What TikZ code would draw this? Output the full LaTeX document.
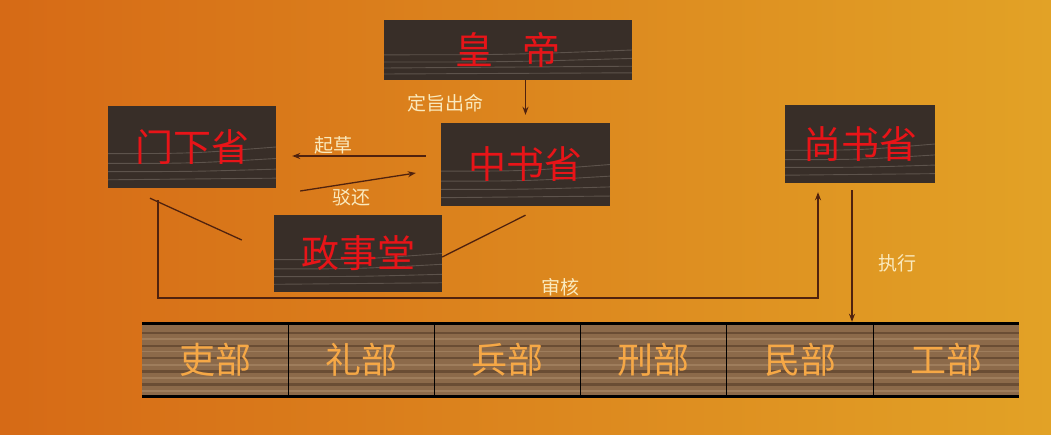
\documentclass[tikz,border=0pt]{standalone}
\usepackage{fontspec}
\newfontfamily\cjk{Noto Sans CJK SC}
\usetikzlibrary{arrows.meta,calc}
\definecolor{bgL}{RGB}{214,106,22}
\definecolor{bgM}{RGB}{230,144,28}
\definecolor{bgR}{RGB}{226,162,38}
\definecolor{wood}{RGB}{56,46,40}
\definecolor{woodln}{RGB}{150,140,130}
\definecolor{redtxt}{RGB}{232,20,24}
\definecolor{cell}{RGB}{140,106,74}
\definecolor{celldk}{RGB}{92,66,44}
\definecolor{celllt}{RGB}{170,138,104}
\definecolor{celltxt}{RGB}{246,168,70}
\definecolor{lbl}{RGB}{250,234,190}
\definecolor{arrc}{RGB}{80,34,14}
\tikzset{
  darkbox/.style={rectangle, fill=wood, inner sep=0pt, text=redtxt,
    font=\cjk\fontsize{38}{42}\selectfont,
    path picture={
      \foreach \f/\g in {0.58/0.50,0.70/0.64,0.80/0.77,0.90/0.88}
        \draw[woodln, opacity=0.4, line width=0.9pt]
          ($(path picture bounding box.north west)!\f!(path picture bounding box.south west)$)
          .. controls ($(path picture bounding box.north)!\f!(path picture bounding box.south)$) ..
          ($(path picture bounding box.north east)!\g!(path picture bounding box.south east)$);
    }},
  cellbox/.style={rectangle, fill=cell, inner sep=0pt, minimum width=146pt, minimum height=72pt,
    text=celltxt, font=\cjk\fontsize{36}{40}\selectfont,
    path picture={
      \foreach \f in {0.12,0.30,0.47,0.66,0.84}
        \draw[celldk, opacity=0.7, line width=2.2pt]
          ($(path picture bounding box.north west)!\f!(path picture bounding box.south west)$) --
          ($(path picture bounding box.north east)!\f!(path picture bounding box.south east)$);
      \foreach \f in {0.21,0.38,0.57,0.75,0.93}
        \draw[celllt, opacity=0.6, line width=1.5pt]
          ($(path picture bounding box.north west)!\f!(path picture bounding box.south west)$) --
          ($(path picture bounding box.north east)!\f!(path picture bounding box.south east)$);
    }},
  lab/.style={text=lbl, font=\cjk\fontsize{19}{22}\selectfont, inner sep=0pt},
  arr/.style={draw=arrc, line width=1.3pt, -{Stealth[length=8pt,width=6pt]}},
  ln/.style={draw=arrc, line width=1.3pt}
}
\begin{document}
\begin{tikzpicture}[x=1pt,y=-1pt]
\useasboundingbox (0,0) rectangle (1051,434);
\shade[left color=bgL, middle color=bgM, right color=bgR] (0,0) rectangle (1051,434);

% top boxes
\node[darkbox, minimum width=248pt, minimum height=60pt] (hd) at (508,50) {皇\hspace{30pt}帝};
\node[darkbox, minimum width=168pt, minimum height=82pt] (mx) at (192,147) {门下省};
\node[darkbox, minimum width=169pt, minimum height=83pt] (zs) at (525.5,164.5) {中书省};
\node[darkbox, minimum width=168pt, minimum height=77pt] (zst) at (358,253.5) {政事堂};
\node[darkbox, minimum width=150pt, minimum height=78pt] (ss) at (860,144) {尚书省};

% bottom row
\node[cellbox] (lb) at (215,360) {吏部};
\node[cellbox] (lib) at (361,360) {礼部};
\node[cellbox] (bb) at (507,360) {兵部};
\node[cellbox] (xb) at (653,360) {刑部};
\node[cellbox] (mb) at (800,360) {民部};
\node[cellbox] (gb) at (946,360) {工部};
\draw[black, line width=3pt] (lb.north west) -- (gb.north east);
\draw[black, line width=3pt] (lb.south west) -- (gb.south east);
\foreach \a/\b in {lb/lib,lib/bb,bb/xb,xb/mb,mb/gb}
  \draw[black, line width=1.2pt] (\a.north east) -- (\a.south east);

% connectors
\draw[arr] (hd.south -| zs.north) -- ($(zs.north)+(0,-8)$);
\draw[arr] ($(zs.west)+(-15,-8.5)$) -- ($(mx.east)+(16,9)$);
\draw[arr] ($(mx.east)+(24,44)$) -- ($(zs.west)+(-25,8.5)$);
\draw[ln] ($(mx.south)+(-42,10)$) -- ($(zst.west)+(-32,-13.5)$);
\draw[ln] ($(zst.east)+(0,3.5)$) -- ($(zs.south)+(0,9)$);
\coordinate (sh1) at ($(mx.south)+(-34,12)$);
\coordinate (sh2) at ($(ss.south)+(-42,9)$);
\draw[arr] (sh1) -- (sh1 |- 0,298) -- (sh2 |- 0,298) -- (sh2);
\coordinate (zx) at ($(ss.south)+(-8,7)$);
\draw[arr, shorten >=2pt] (zx) -- (zx |- gb.north);

% labels
\node[lab] (l1) at (445,103) {定旨出命};
\node[lab] (l2) at (333,145) {起草};
\node[lab] (l3) at (351,197) {驳还};
\node[lab] (l4) at (560,287) {审核};
\node[lab] (l5) at (897,263) {执行};
\end{tikzpicture}
\end{document}
